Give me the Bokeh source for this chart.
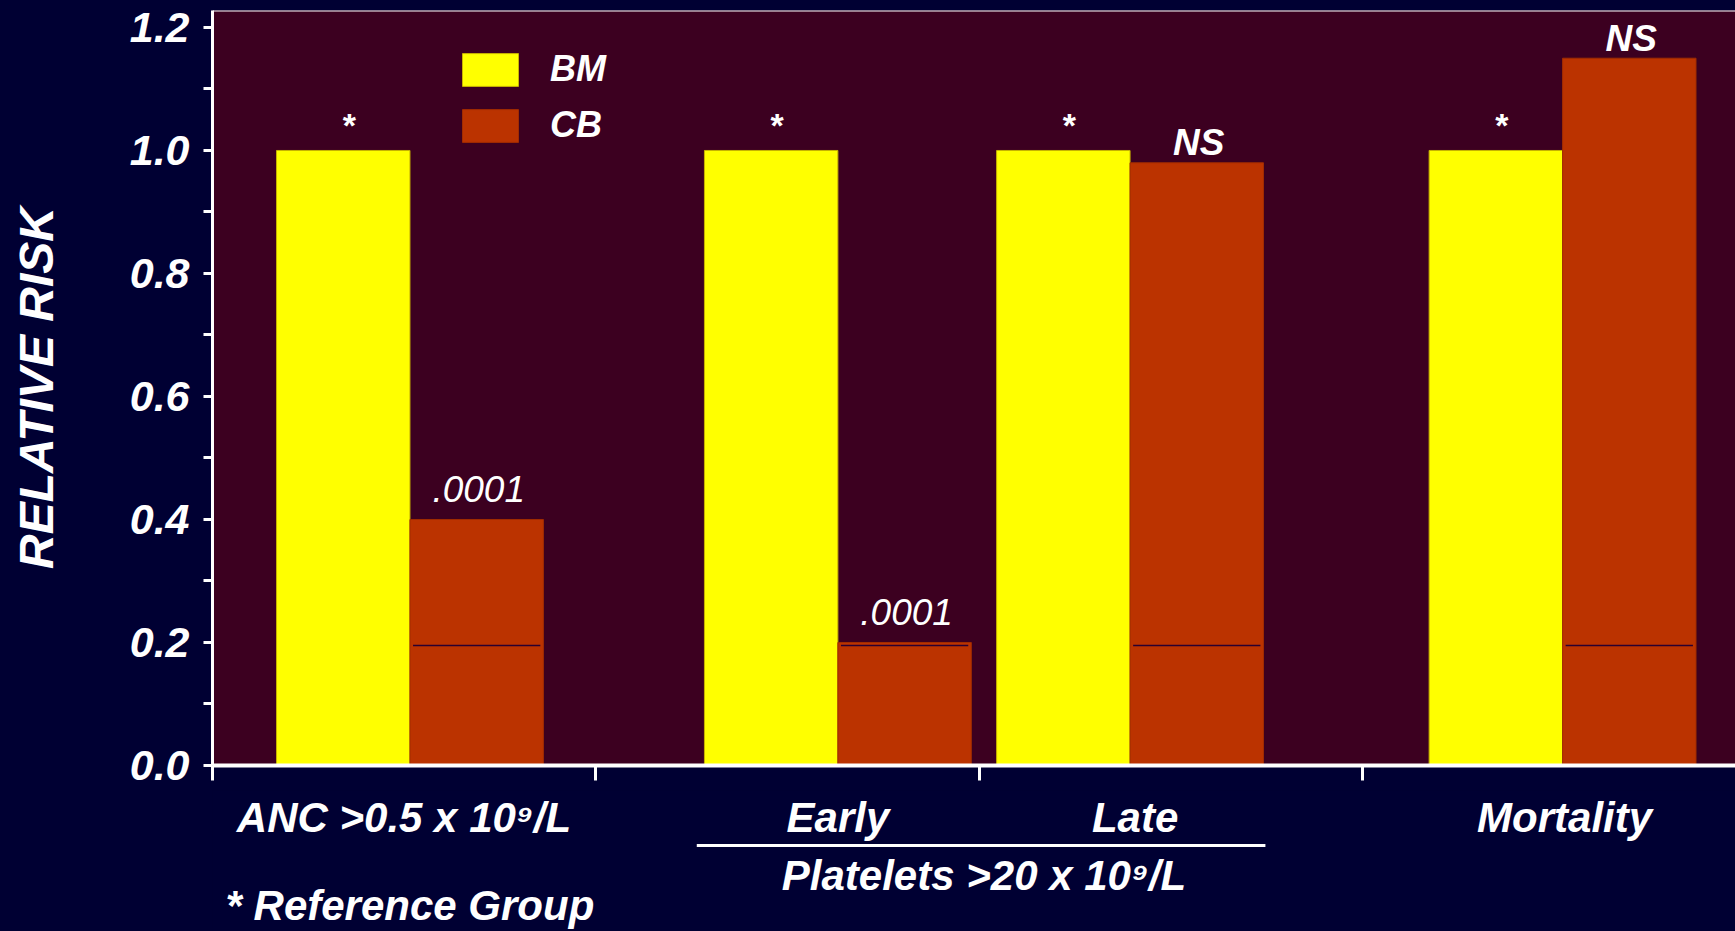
from bokeh.plotting import figure
from bokeh.layouts import column
from bokeh.models import (Range1d, FixedTicker, Span, ColumnDataSource,
                          Legend, LegendItem, PrintfTickFormatter)
from bokeh.core.properties import value
from bokeh.embed import file_html
from bokeh.resources import INLINE

# ---------------- data ----------------
categories = ["ANC >0.5 x 10\u2079/L", "Early", "Late", "Mortality"]
bm_values = [1.0, 1.0, 1.0, 1.0]
cb_values = [0.40, 0.20, 0.98, 1.15]
bm_notes = ["*", "*", "*", "*"]
cb_notes = [".0001", ".0001", "NS", "NS"]
cb_inner_level = [0.195, 0.195, 0.195, 0.195]
y_ticks = [0.0, 0.2, 0.4, 0.6, 0.8, 1.0, 1.2]
y_minor_ticks = [0.1, 0.3, 0.5, 0.7, 0.9, 1.1]
x_ticks = [0, 1, 2, 3]
group_label = "Platelets >20 x 10\u2079/L"
footnote = "* Reference Group"
y_label = "RELATIVE RISK"

# ---------------- layout ----------------
group_pos = [0.515, 1.631, 2.393, 3.521]
cat_dx = [-6, 0, 5, 2]          # small pixel nudges of the category texts
bar_w = 0.348
FONT = "Liberation Sans"
BG = "#000033"
PLOT_BG = "#3C0020"
YELLOW = "#FFFF00"
RED = "#BB3300"
W = 1735
H_TOP = 790          # chart part (frame bottom at 765)
H_BOT = 931 - H_TOP  # text rows below the axis
BG_STYLE = {"background-color": BG}

bm_x = [c - bar_w / 2 for c in group_pos]
cb_x = [c + bar_w / 2 for c in group_pos]
inset = 0.008
cb_x0 = [x - bar_w / 2 + inset for x in cb_x]
cb_x1 = [x + bar_w / 2 - inset for x in cb_x]
cb_offsets = [-30 if n.startswith(".") else -20 for n in cb_notes]
cb_styles = ["italic" if n.startswith(".") else "bold italic" for n in cb_notes]

src = ColumnDataSource(dict(cat=categories, pos=group_pos, cat_dx=cat_dx, bm_x=bm_x, cb_x=cb_x,
                            bm=bm_values, cb=cb_values, bm_note=bm_notes, cb_note=cb_notes,
                            cb_off=cb_offsets, cb_style=cb_styles,
                            x0=cb_x0, x1=cb_x1, lvl=cb_inner_level))

y_top = 1.2276
xr = Range1d(0, 3.972)
p = figure(width=W, height=H_TOP, x_range=xr, y_range=Range1d(0, y_top),
           output_backend="svg", toolbar_location=None,
           min_border_left=212, min_border_right=0, min_border_top=10,
           min_border_bottom=H_TOP - 765,
           background_fill_color=PLOT_BG, border_fill_color=None, outline_line_color=None,
           styles=BG_STYLE)
p.grid.visible = False

# y axis
ya = p.yaxis[0]
ya.ticker = FixedTicker(ticks=y_ticks, minor_ticks=y_minor_ticks)
ya.formatter = PrintfTickFormatter(format="%.1f")
ya.axis_line_color = "white"
ya.axis_line_width = 3
ya.major_tick_line_color = "white"
ya.major_tick_line_width = 3
ya.major_tick_out = 9
ya.major_tick_in = 0
ya.minor_tick_line_color = "white"
ya.minor_tick_line_width = 3
ya.minor_tick_out = 9
ya.minor_tick_in = 0
ya.major_label_text_color = "white"
ya.major_label_text_font = FONT
ya.major_label_text_font_size = "43px"
ya.major_label_text_font_style = "bold italic"
ya.major_label_standoff = 14
ya.axis_label = y_label
ya.axis_label_text_color = "white"
ya.axis_label_text_font = FONT
ya.axis_label_text_font_size = "48px"
ya.axis_label_text_font_style = "bold italic"
ya.axis_label_standoff = 64

# x axis
xa = p.xaxis[0]
xa.ticker = FixedTicker(ticks=x_ticks, minor_ticks=[])
xa.major_label_overrides = {t: "" for t in x_ticks}
xa.major_label_text_font_size = "1px"
xa.major_label_standoff = 0
xa.axis_line_color = "white"
xa.axis_line_width = 4
xa.major_tick_line_color = "white"
xa.major_tick_line_width = 3
xa.major_tick_out = 15
xa.major_tick_in = 0
xa.minor_tick_line_color = None

# bars
bm_r = p.vbar(x="bm_x", top="bm", bottom=0, width=bar_w, source=src,
              fill_color=YELLOW, line_color="#C8B400", line_width=1)
cb_r = p.vbar(x="cb_x", top="cb", bottom=0, width=bar_w, source=src,
              fill_color=RED, line_color="#A02C00", line_width=1)
p.segment(x0="x0", x1="x1", y0="lvl", y1="lvl", source=src,
          line_color="#2A0030", line_width=1.5)

# annotations on bars
p.text(x="bm_x", y="bm", text="bm_note", source=src, text_align="center",
       text_baseline="alphabetic", x_offset=6, y_offset=-25, text_color="white",
       text_font=value(FONT), text_font_size="34px", text_font_style="bold")
p.text(x="cb_x", y="cb", text="cb_note", source=src, text_align="center",
       text_baseline="alphabetic", x_offset=2, y_offset="cb_off", text_color="white",
       text_font=value(FONT), text_font_size="37px", text_font_style="cb_style")

# top border
p.add_layout(Span(location=y_top, dimension="width", line_color="white", line_width=2))

# legend
legend = Legend(items=[LegendItem(label="BM", renderers=[bm_r]),
                       LegendItem(label="CB", renderers=[cb_r])],
                location=(243, 619), orientation="vertical",
                background_fill_alpha=0, border_line_color=None,
                glyph_width=70, glyph_height=41, spacing=14, padding=0, margin=0,
                label_standoff=25, label_text_color="white", label_text_font=FONT,
                label_text_font_size="36px", label_text_font_style="bold italic")
p.add_layout(legend)

# ---------------- text rows below the axis ----------------
# y of this strip is measured in page pixel rows (top of strip = row 790)
row_cat, row_line, row_group, row_note = 817, 845, 875, 905
p2 = figure(width=W, height=H_BOT, x_range=xr, y_range=Range1d(931, H_TOP),
            output_backend="svg", toolbar_location=None,
            x_axis_type=None, y_axis_type=None,
            min_border_left=212, min_border_right=0, min_border_top=0, min_border_bottom=0,
            background_fill_color=BG, border_fill_color=None, outline_line_color=None,
            styles=BG_STYLE)
p2.grid.visible = False

p2.text(x="pos", y=row_cat, text="cat", source=src, x_offset="cat_dx", text_align="center",
        text_baseline="middle", text_color="white", text_font=value(FONT),
        text_font_size="42px", text_font_style="bold italic")
p2.segment(x0=[group_pos[1] - bar_w - 0.02], x1=[group_pos[2] + bar_w + 0.005],
           y0=[row_line], y1=[row_line], line_color="white", line_width=3)
p2.text(x=[(group_pos[1] + group_pos[2]) / 2], y=[row_group], text=[group_label],
        text_align="center", text_baseline="middle", text_color="white",
        text_font=value(FONT), text_font_size="42px", text_font_style="bold italic")
p2.text(x=[0.034], y=[row_note], text=[footnote], text_align="left",
        text_baseline="middle", text_color="white", text_font=value(FONT),
        text_font_size="42px", text_font_style="bold italic")

layout = column(p, p2, spacing=0, styles=BG_STYLE)
open("out.html", "w").write(file_html(layout, INLINE))
